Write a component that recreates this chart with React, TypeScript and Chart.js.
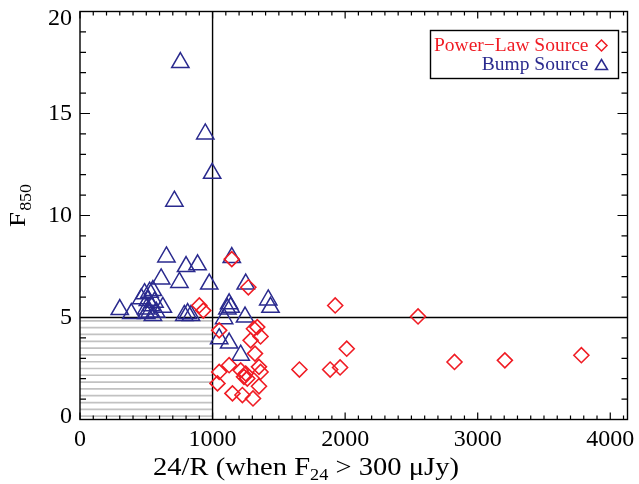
import { useEffect, useRef } from "react";
import { Chart, registerables } from "chart.js";

Chart.register(...registerables);

// ---- data ----
const powerLawX = [1145, 1270, 900, 930, 1050, 1312, 1337, 1362, 1287, 1320, 1125, 1050, 1212, 1250, 1350, 1362, 1237, 1262, 1037, 1350, 1150, 1225, 1305, 1925, 2550, 2012, 1655, 1887, 1962, 2825, 3205, 3782];
const powerLawY = [7.86, 6.48, 5.59, 5.34, 4.37, 4.45, 4.53, 4.07, 3.88, 3.23, 2.66, 2.33, 2.41, 2.25, 2.58, 2.33, 2.09, 2.01, 1.77, 1.63, 1.28, 1.2, 1.03, 5.59, 5.05, 3.47, 2.45, 2.45, 2.55, 2.82, 2.9, 3.15];

const bumpX = [757, 945, 997, 712, 652, 800, 887, 612, 750, 975, 300, 387, 487, 525, 550, 462, 512, 562, 537, 625, 500, 525, 575, 500, 550, 787, 837, 812, 1145, 1250, 1420, 1437, 1125, 1137, 1112, 1245, 1087, 1050, 1125, 1212];
const bumpY = [17.5, 14.0, 12.07, 10.7, 7.97, 7.5, 7.58, 6.89, 6.72, 6.64, 5.39, 5.19, 6.17, 6.24, 6.32, 5.92, 5.83, 5.75, 5.58, 5.5, 5.42, 5.26, 5.26, 5.19, 5.1, 5.1, 5.1, 5.19, 7.94, 6.64, 5.86, 5.5, 5.67, 5.5, 5.42, 5.02, 4.94, 3.96, 3.75, 3.15];

const xTickValues = [0, 1000, 2000, 3000, 4000];
const yTickValues = [0, 5, 10, 15, 20];
const xRange = [0, 4130];
const yRange = [0, 20];
const cutX = 1000;
const cutY = 5;
const hatchLevels = [0.17, 0.5, 0.83, 1.17, 1.5, 1.83, 2.17, 2.5, 2.83, 3.17, 3.5, 3.83, 4.17, 4.5, 4.83];
const legendLabels = ["Power\u2212Law Source", "Bump Source"];
const xTitleParts = ["24/R (when F", "24", " > 300 \u03bcJy)"];
const yTitleParts = ["F", "850"];

const RED = "rgb(240,28,36)";
const NAVY = "rgb(42,42,142)";
const FONT = "'Liberation Serif', 'Times New Roman', serif";

function diamond(ctx: CanvasRenderingContext2D, x: number, y: number, r: number) {
  ctx.beginPath();
  ctx.moveTo(x - r, y);
  ctx.lineTo(x, y - r);
  ctx.lineTo(x + r, y);
  ctx.lineTo(x, y + r);
  ctx.closePath();
  ctx.stroke();
}
function triangle(ctx: CanvasRenderingContext2D, x: number, y: number, w: number, h: number) {
  ctx.beginPath();
  ctx.moveTo(x, y - h / 2);
  ctx.lineTo(x + w / 2, y + h / 2);
  ctx.lineTo(x - w / 2, y + h / 2);
  ctx.closePath();
  ctx.stroke();
}

const decor = {
  id: "decor",
  beforeDraw(chart: any) {
    // keep the end labels of the y axis inside the frame, as in the reference
    const y = chart.scales.y;
    const items = y.getLabelItems(chart.chartArea);
    for (const it of items) {
      if (it._shifted) continue;
      if (it.label === "20") it.options.translation[1] += 7;
      if (it.label === "0") it.options.translation[1] -= 3;
      it._shifted = true;
    }
  },
  beforeDatasetsDraw(chart: any) {
    const { ctx, chartArea: a, scales } = chart;
    const x = scales.x, y = scales.y;
    ctx.save();
    ctx.strokeStyle = "#c2c2c2";
    ctx.lineWidth = 1.7;
    const xc = x.getPixelForValue(cutX);
    for (const l of hatchLevels) {
      const py = y.getPixelForValue(l);
      ctx.beginPath();
      ctx.moveTo(a.left, py);
      ctx.lineTo(xc, py);
      ctx.stroke();
    }
    ctx.strokeStyle = "#000";
    ctx.lineWidth = 1.4;
    ctx.beginPath();
    ctx.moveTo(xc, a.top);
    ctx.lineTo(xc, a.bottom);
    const yc = y.getPixelForValue(cutY);
    ctx.moveTo(a.left, yc);
    ctx.lineTo(a.right, yc);
    ctx.stroke();
    ctx.restore();
  },
  afterDatasetsDraw(chart: any) {
    const { ctx, chartArea: a, scales } = chart;
    const x = scales.x, y = scales.y;
    ctx.save();
    ctx.strokeStyle = "#000";
    ctx.lineWidth = 1.4;
    ctx.strokeRect(a.left, a.top, a.right - a.left, a.bottom - a.top);
    ctx.lineWidth = 1.2;
    ctx.beginPath();
    for (let v = xRange[0]; v <= xRange[1]; v += 100) {
      const px = x.getPixelForValue(v);
      const len = v % 1000 === 0 ? 7 : 4;
      ctx.moveTo(px, a.bottom);
      ctx.lineTo(px, a.bottom - len);
      ctx.moveTo(px, a.top);
      ctx.lineTo(px, a.top + len);
    }
    for (let v = yRange[0]; v <= yRange[1]; v += 1) {
      const py = y.getPixelForValue(v);
      const len = v % 5 === 0 ? 10 : 6;
      ctx.moveTo(a.left, py);
      ctx.lineTo(a.left + len, py);
      ctx.moveTo(a.right, py);
      ctx.lineTo(a.right - len, py);
    }
    ctx.stroke();

    // legend
    const bx = a.right - 197, by = a.top + 19, bw = 188, bh = 48;
    ctx.lineWidth = 1.4;
    ctx.strokeRect(bx, by, bw, bh);
    ctx.font = `19.5px ${FONT}`;
    ctx.textAlign = "right";
    ctx.textBaseline = "middle";
    const tx = bx + bw - 30;
    ctx.fillStyle = RED;
    ctx.fillText(legendLabels[0], tx, by + 15);
    ctx.fillStyle = NAVY;
    ctx.fillText(legendLabels[1], tx, by + 34);
    ctx.lineWidth = 1.5;
    ctx.strokeStyle = RED;
    diamond(ctx, bx + bw - 17, by + 15, 5.5);
    ctx.strokeStyle = NAVY;
    triangle(ctx, bx + bw - 17, by + 34, 12, 10);
    ctx.restore();
  },
  afterDraw(chart: any) {
    const { ctx, chartArea: a } = chart;
    ctx.save();
    ctx.fillStyle = "#000";
    ctx.textBaseline = "alphabetic";
    ctx.textAlign = "left";
    // x title
    const big = `25px ${FONT}`, small = `16px ${FONT}`;
    ctx.font = big;
    const w0 = ctx.measureText(xTitleParts[0]).width;
    const w2 = ctx.measureText(xTitleParts[2]).width;
    ctx.font = small;
    const w1 = ctx.measureText(xTitleParts[1]).width;
    const total = w0 + w1 + w2;
    const target = 306;
    const sx = target / total;
    ctx.translate(a.left + 73, a.bottom + 55);
    ctx.scale(sx, 1);
    ctx.font = big;
    ctx.fillText(xTitleParts[0], 0, 0);
    ctx.font = small;
    ctx.fillText(xTitleParts[1], w0, 5);
    ctx.font = big;
    ctx.fillText(xTitleParts[2], w0 + w1, 0);
    ctx.restore();

    // y title
    ctx.save();
    ctx.fillStyle = "#000";
    ctx.textBaseline = "alphabetic";
    ctx.textAlign = "left";
    const fb = `24px ${FONT}`, fs = `16px ${FONT}`;
    ctx.font = fb;
    const f0 = ctx.measureText(yTitleParts[0]).width;
    ctx.font = fs;
    const f1 = ctx.measureText(yTitleParts[1]).width;
    const tw = (f0 + f1) * 1.12;
    ctx.translate(25, 206);
    ctx.rotate(-Math.PI / 2);
    ctx.scale(1.12, 1);
    ctx.translate(-tw / 2 / 1.12, 0);
    ctx.font = fb;
    ctx.fillText(yTitleParts[0], 0, 0);
    ctx.font = fs;
    ctx.fillText(yTitleParts[1], f0 + 1, 6);
    ctx.restore();
  },
};

export default function App() {
  const ref = useRef<HTMLCanvasElement | null>(null);
  useEffect(() => {
    if (!ref.current) return;
    Chart.defaults.font.family = FONT;
    const chart = new Chart(ref.current, {
      type: "scatter",
      data: {
        datasets: [
          {
            label: legendLabels[0],
            data: powerLawX.map((v, i) => ({ x: v, y: powerLawY[i] })),
            pointStyle: "rectRot",
            pointRadius: 7.5,
            pointHoverRadius: 7.5,
            borderColor: RED,
            backgroundColor: "rgba(0,0,0,0)",
            pointBorderWidth: 1.6,
          },
          {
            label: legendLabels[1],
            data: bumpX.map((v, i) => ({ x: v, y: bumpY[i] })),
            pointStyle: "triangle",
            pointRadius: 10,
            pointHoverRadius: 10,
            borderColor: NAVY,
            backgroundColor: "rgba(0,0,0,0)",
            pointBorderWidth: 1.5,
          },
        ],
      },
      options: {
        animation: false,
        responsive: false,
        events: [],
        layout: { padding: { top: 9.5, right: 8, left: 0, bottom: 0 } },
        plugins: { legend: { display: false }, tooltip: { enabled: false } },
        scales: {
          x: {
            type: "linear",
            min: xRange[0],
            max: xRange[1],
            afterFit: (s: any) => {
              s.height = 64.5;
              s.paddingLeft = 0;
              s.paddingRight = 0;
            },
            afterBuildTicks: (s: any) => { s.ticks = xTickValues.map((v) => ({ value: v })); },
            grid: { display: false, drawTicks: false },
            border: { display: false },
            ticks: {
              color: "#000",
              font: { size: 24, family: FONT },
              padding: 6,
              maxRotation: 0,
              autoSkip: false,
              callback: (v: any) => String(v),
            },
          },
          y: {
            type: "linear",
            min: yRange[0],
            max: yRange[1],
            afterFit: (s: any) => {
              s.width = 80;
              s.paddingTop = 0;
              s.paddingBottom = 0;
            },
            afterBuildTicks: (s: any) => { s.ticks = yTickValues.map((v) => ({ value: v })); },
            grid: { display: false, drawTicks: false },
            border: { display: false },
            ticks: {
              color: "#000",
              font: { size: 24, family: FONT },
              padding: 8,
              autoSkip: false,
              callback: (v: any) => String(v),
            },
          },
        },
      },
      plugins: [decor],
    });
    return () => chart.destroy();
  }, []);
  return (
    <div style={{ position: "fixed", left: 0, top: 0, width: 639, height: 484, background: "#fff" }}>
      <canvas ref={ref} width={639} height={484} style={{ display: "block" }} />
    </div>
  );
}
